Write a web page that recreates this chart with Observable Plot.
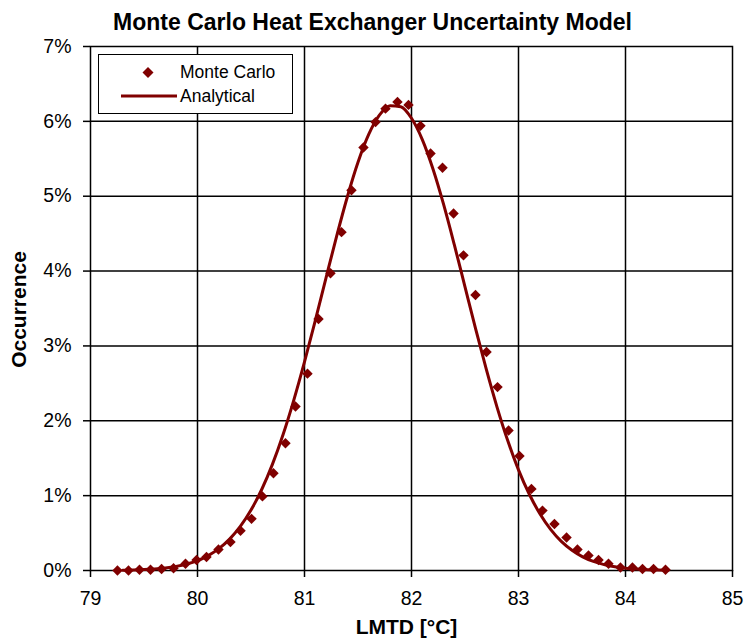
<!DOCTYPE html>
<html>
<head>
<meta charset="utf-8">
<script src="https://cdn.jsdelivr.net/npm/d3@7"></script>
<script src="https://cdn.jsdelivr.net/npm/@observablehq/plot@0.6"></script>
<style>
  html, body { margin: 0; padding: 0; background: #fff; }
  #wrap { position: relative; width: 744px; height: 639px; font-family: "Liberation Sans", Arial, sans-serif; }
  #legend { position: absolute; left: 98px; top: 54px; width: 195px; height: 60px; border: 1.5px solid #000; background: #fff; box-sizing: border-box; }
  #legend svg { position: absolute; left: 0; top: 0; }
  .lt { position: absolute; font-size: 17.5px; color: #000; white-space: nowrap; line-height: 1; }
</style>
</head>
<body>
<div id="wrap"></div>
<script>
// ---- data ----
const mcX = [79.252, 79.355, 79.458, 79.561, 79.664, 79.776, 79.888, 79.991, 80.084, 80.196,
             80.308, 80.402, 80.505, 80.607, 80.710, 80.822, 80.916, 81.028, 81.131, 81.243,
             81.346, 81.439, 81.551, 81.664, 81.757, 81.869, 81.972, 82.084, 82.178, 82.290,
             82.393, 82.486, 82.598, 82.701, 82.804, 82.907, 83.009, 83.121, 83.224, 83.336,
             83.449, 83.551, 83.654, 83.748, 83.841, 83.953, 84.065, 84.159, 84.262, 84.374];
const mcY = [0.00, 0.00, 0.01, 0.01, 0.02, 0.03, 0.09, 0.14, 0.18, 0.28,
             0.38, 0.53, 0.69, 0.99, 1.30, 1.70, 2.19, 2.63, 3.36, 3.97,
             4.52, 5.08, 5.65, 5.99, 6.17, 6.26, 6.22, 5.94, 5.57, 5.38,
             4.77, 4.21, 3.68, 2.92, 2.45, 1.87, 1.53, 1.09, 0.80, 0.62,
             0.44, 0.28, 0.20, 0.14, 0.09, 0.04, 0.04, 0.02, 0.02, 0.01];
const curveX = [79.3, 79.4, 79.5, 79.6, 79.7, 79.8, 79.9, 80.0, 80.1, 80.2,
                80.3, 80.4, 80.5, 80.6, 80.7, 80.8, 80.9, 81.0, 81.1, 81.2,
                81.3, 81.4, 81.5, 81.6, 81.7, 81.8, 81.9, 82.0, 82.1, 82.2,
                82.3, 82.4, 82.5, 82.6, 82.7, 82.8, 82.9, 83.0, 83.1, 83.2,
                83.3, 83.4, 83.5, 83.6, 83.7, 83.8, 83.9, 84.0, 84.1, 84.2,
                84.3, 84.4];
const curveY = [0.004, 0.007, 0.012, 0.021, 0.034, 0.055, 0.086, 0.132, 0.199, 0.292,
                0.419, 0.588, 0.807, 1.082, 1.418, 1.817, 2.277, 2.787, 3.336, 3.903,
                4.464, 4.990, 5.454, 5.826, 6.083, 6.209, 6.195, 6.041, 5.760, 5.367,
                4.890, 4.353, 3.789, 3.224, 2.682, 2.180, 1.732, 1.345, 1.022, 0.758,
                0.550, 0.390, 0.271, 0.183, 0.121, 0.079, 0.050, 0.031, 0.019, 0.011,
                0.006, 0.004];
const xTicks = [79, 80, 81, 82, 83, 84, 85];
const yTicks = [0, 1, 2, 3, 4, 5, 6, 7];
const title = "Monte Carlo Heat Exchanger Uncertainty Model";
const xLabel = "LMTD [°C]";
const yLabel = "Occurrence";
const seriesNames = ["Monte Carlo", "Analytical"];

const mc = mcX.map((x, i) => ({x, y: mcY[i]}));
const curve = curveX.map((x, i) => ({x, y: curveY[i]}));
const red = "#800000";

const chart = Plot.plot({
  width: 744,
  height: 639,
  marginLeft: 90,
  marginRight: 12,
  marginTop: 46,
  marginBottom: 69,
  style: {fontFamily: "'Liberation Sans', Arial, sans-serif", fontSize: "19.5px", color: "#000", background: "#fff"},
  x: {domain: [79, 85]},
  y: {domain: [0, 7]},
  marks: [
    Plot.gridX(xTicks.slice(1, -1), {stroke: "#000", strokeOpacity: 1, strokeWidth: 1.5}),
    Plot.gridY(yTicks.slice(1, -1), {stroke: "#000", strokeOpacity: 1, strokeWidth: 1.5}),
    Plot.frame({stroke: "#000", strokeWidth: 1.5}),
    Plot.line(curve, {x: "x", y: "y", stroke: red, strokeWidth: 3, curve: "monotone-x"}),
    Plot.dot(mc, {x: "x", y: "y", symbol: "diamond2", r: 4.7, fill: red, stroke: "none"}),
    Plot.axisX(xTicks, {tickSize: 7, tickPadding: 14, fontSize: 19.5, label: null, strokeWidth: 1.5}),
    Plot.axisY(yTicks, {tickSize: 7, tickPadding: 12, fontSize: 19.5, label: null, strokeWidth: 1.5, tickFormat: d => d + "%"}),
    Plot.text([title], {text: d => d, frameAnchor: "top", lineAnchor: "middle", dy: -24, dx: -39, fontSize: 23, fontWeight: "bold"}),
    Plot.text([xLabel], {text: d => d, frameAnchor: "bottom", lineAnchor: "middle", dy: 57, dx: -5, fontSize: 21, fontWeight: "bold"}),
    Plot.text([yLabel], {text: d => d, frameAnchor: "left", textAnchor: "middle", lineAnchor: "middle", dx: -71, dy: 1, rotate: -90, fontSize: 21, fontWeight: "bold"})
  ]
});

const wrap = document.getElementById("wrap");
wrap.appendChild(chart);

// legend (HTML overlay)
const lg = document.createElement("div");
lg.id = "legend";
lg.innerHTML = `
  <svg width="195" height="60">
    <path d="M49,12 L54.5,17.5 L49,23 L43.5,17.5 Z" fill="${red}"/>
    <line x1="22" y1="41" x2="78" y2="41" stroke="${red}" stroke-width="3"/>
  </svg>
  <div class="lt" style="left:81px; top:9px;">${seriesNames[0]}</div>
  <div class="lt" style="left:81px; top:33px;">${seriesNames[1]}</div>`;
wrap.appendChild(lg);
</script>
</body>
</html>
